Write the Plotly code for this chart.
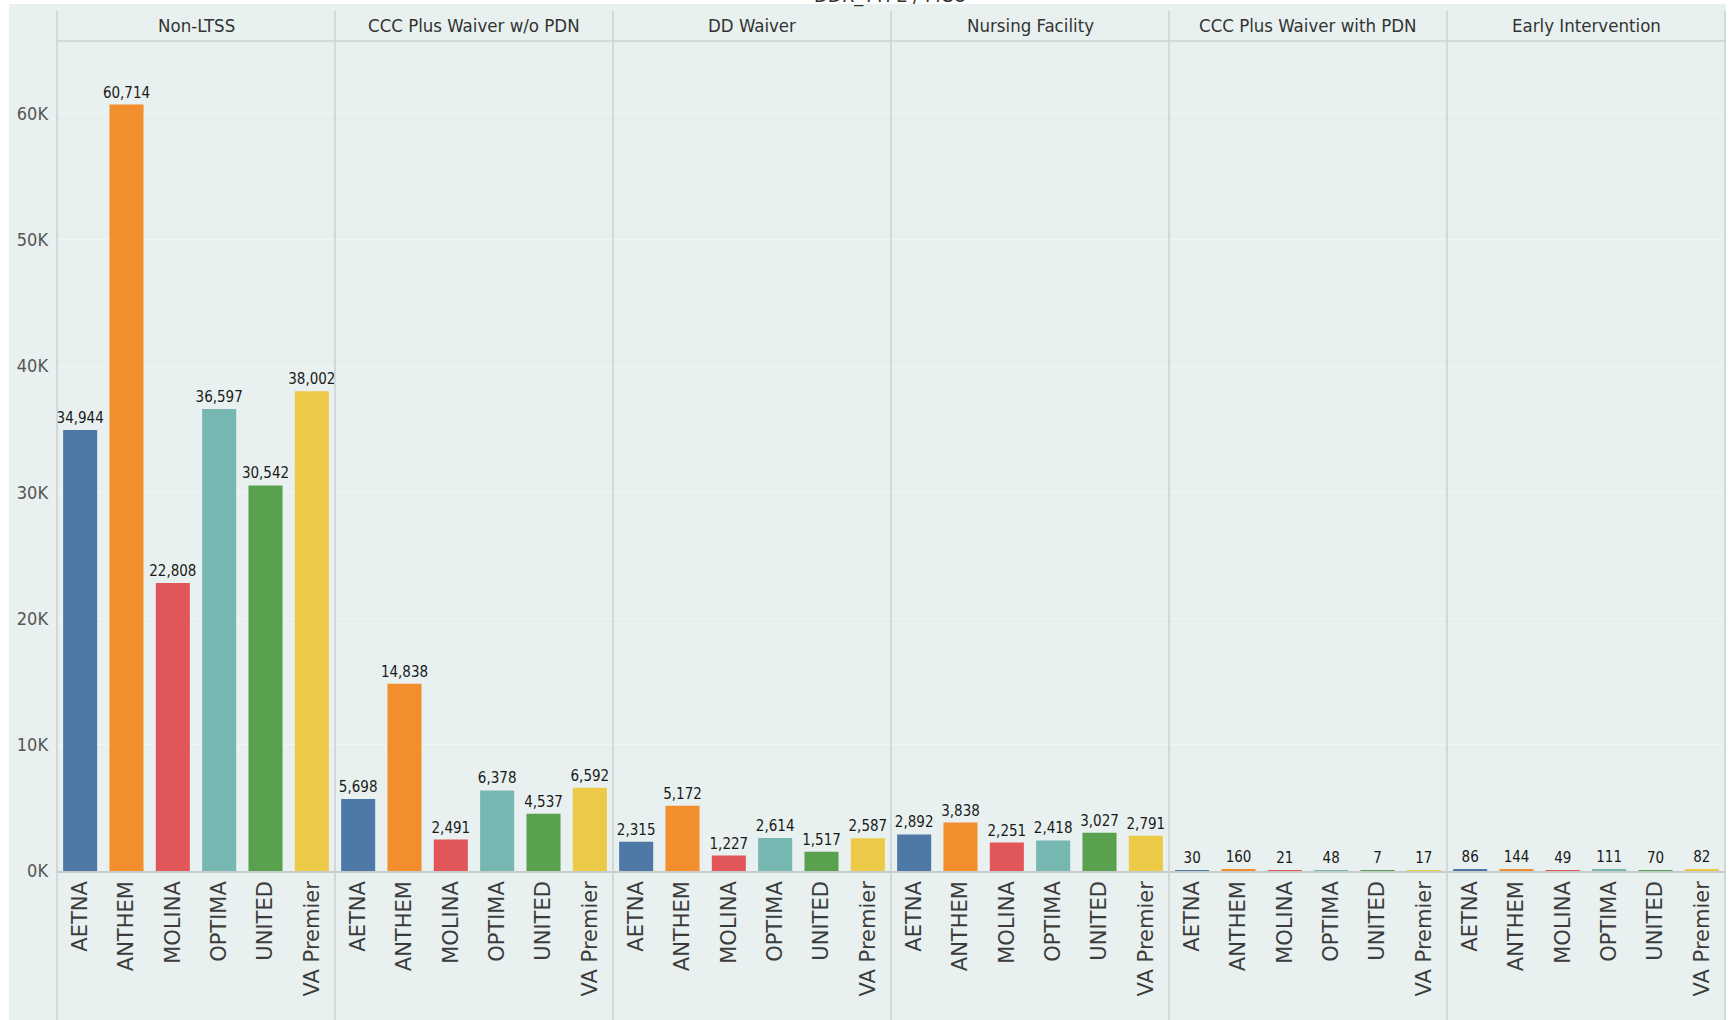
import plotly.graph_objects as go

# ---------------- data ----------------
mcos = ["AETNA", "ANTHEM", "MOLINA", "OPTIMA", "UNITED", "VA Premier"]
panels = ["Non-LTSS", "CCC Plus Waiver w/o PDN", "DD Waiver", "Nursing Facility",
          "CCC Plus Waiver with PDN", "Early Intervention"]
non_ltss = [34944, 60714, 22808, 36597, 30542, 38002]
ccc_wo_pdn = [5698, 14838, 2491, 6378, 4537, 6592]
dd_waiver = [2315, 5172, 1227, 2614, 1517, 2587]
nursing_facility = [2892, 3838, 2251, 2418, 3027, 2791]
ccc_with_pdn = [30, 160, 21, 48, 7, 17]
early_intervention = [86, 144, 49, 111, 70, 82]
y_tickvals = [0, 10000, 20000, 30000, 40000, 50000, 60000]
y_ticktext = ["0K", "10K", "20K", "30K", "40K", "50K", "60K"]
title_text = "DDR_TYPE / MCO"

series = [non_ltss, ccc_wo_pdn, dd_waiver, nursing_facility, ccc_with_pdn, early_intervention]

# ---------------- styles ----------------
colors = ["#4e79a7", "#f28e2b", "#e15759", "#76b7b2", "#59a14f", "#edc948"]
W, H = 1729, 1020
MINT = "#e8f1ef"
SEP = "#cbd1d0"
NARROW = "DejaVu Sans Condensed, Roboto, sans-serif"
WIDE = "DejaVu Sans, Verdana, sans-serif"

left_px, right_px = 57, 1725
zero_px, top_px, header_top_px = 871, 41, 11
panel_w = (right_px - left_px) / len(panels)
y_top_val = 60000 * (zero_px - top_px) / (zero_px - 113.6)


def px_x(x):
    return x / W


def px_y(y):
    return 1 - y / H


fig = go.Figure()
layout = dict(
    width=W, height=H,
    margin=dict(l=0, r=0, t=0, b=0, pad=0, autoexpand=False),
    paper_bgcolor="white",
    plot_bgcolor="rgba(0,0,0,0)",
    showlegend=False,
    bargap=0.265,
    yaxis=dict(
        domain=[px_y(zero_px), px_y(top_px)],
        range=[0, y_top_val],
        tickvals=y_tickvals, ticktext=y_ticktext,
        tickfont=dict(family=NARROW, size=18, color="#555555"),
        ticks="", ticklabelstandoff=8, automargin=False,
        showgrid=True, gridcolor="#f2f7f6", gridwidth=1,
        zeroline=False, showline=False,
        anchor="x", fixedrange=True,
    ),
)

annotations = []
shapes = []

# mint background
shapes.append(dict(type="rect", xref="paper", yref="paper",
                   x0=px_x(9), x1=px_x(1726), y0=0, y1=px_y(4),
                   fillcolor=MINT, line=dict(width=0), layer="below"))

for i, (pname, vals) in enumerate(zip(panels, series)):
    xa = "x" if i == 0 else f"x{i+1}"
    x0 = left_px + panel_w * i
    x1 = left_px + panel_w * (i + 1)
    layout["xaxis" if i == 0 else f"xaxis{i+1}"] = dict(
        domain=[px_x(x0), px_x(x1)],
        type="category", categoryorder="array", categoryarray=mcos,
        range=[-0.5, len(mcos) - 0.5],
        tickangle=-90,
        tickfont=dict(family=WIDE, size=21, color="#3c3c3c"),
        ticks="", ticklabelstandoff=0, automargin=False,
        showline=True, linecolor="#c6cccb", linewidth=1.5,
        showgrid=False, zeroline=False,
        anchor="y", fixedrange=True,
    )
    fig.add_trace(go.Bar(
        x=mcos, y=vals, xaxis=xa, yaxis="y",
        marker=dict(color=colors, line=dict(width=0)),
        texttemplate="%{y:,}", textposition="outside", constraintext="none",
        textfont=dict(family=NARROW, size=15, color="#1a1a1a"),
        cliponaxis=False, hoverinfo="x+y",
    ))
    annotations.append(dict(
        text=pname, xref="paper", yref="paper",
        x=px_x((x0 + x1) / 2), y=px_y(25), xanchor="center", yanchor="middle",
        showarrow=False, font=dict(family=NARROW, size=18.5, color="#333333"),
    ))

# panel separators (including left axis line and right border)
for i in range(len(panels) + 1):
    xx = px_x(left_px + panel_w * i)
    shapes.append(dict(type="line", xref="paper", yref="paper",
                       x0=xx, x1=xx, y0=0, y1=px_y(header_top_px),
                       line=dict(color=SEP, width=1.5), layer="above"))
# header bottom line
shapes.append(dict(type="line", xref="paper", yref="paper",
                   x0=px_x(left_px), x1=px_x(right_px), y0=px_y(top_px), y1=px_y(top_px),
                   line=dict(color=SEP, width=1.5), layer="above"))

# partially clipped title at the very top
annotations.append(dict(
    text=title_text, xref="paper", yref="paper",
    x=px_x(890), y=px_y(-5), xanchor="center", yanchor="middle",
    showarrow=False, font=dict(family=NARROW, size=20, color="#333333"),
))

layout["annotations"] = annotations
layout["shapes"] = shapes
fig.update_layout(**layout)
fig.write_html("out.html")
